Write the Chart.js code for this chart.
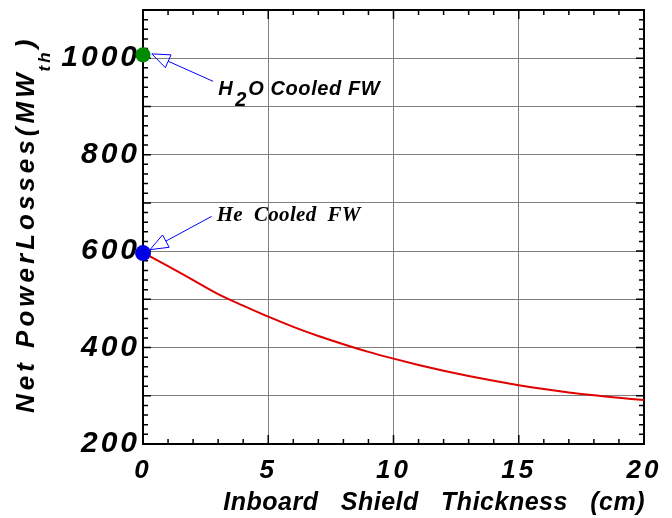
<!DOCTYPE html>
<html>
<head>
<meta charset="utf-8">
<script src="https://cdn.jsdelivr.net/npm/chart.js@4.4.1/dist/chart.umd.min.js"></script>
<style>
  html, body { margin: 0; padding: 0; background: #fff; }
</style>
</head>
<body>
<canvas id="chart" width="672" height="518"></canvas>
<script>
// inboard shield thickness (cm) vs net power losses (MWth)
const thickness = [0, 1, 2, 3, 4, 5, 6, 7, 8, 9, 10, 11, 12, 13, 14, 15, 16, 17, 18, 19, 20];
const netLosses = [597, 569, 540, 511, 487, 464, 443, 424, 407, 391, 377, 364, 352, 341, 331, 322, 314, 307, 301, 296, 291];

// the two first wall cases at zero shield
const h2oThickness = [0];
const h2oLosses = [1007];
const heThickness = [0];
const heLosses = [596];

const xTickLabels = [0, 5, 10, 15, 20];
const yTickLabels = [200, 400, 600, 800, 1000];
const yGridValues = [200, 300, 400, 500, 600, 700, 800, 900, 1000, 1100];

const boldItalic = (size, family) => ({ family: family || "'Liberation Sans', Arial, sans-serif", size: size, style: 'italic', weight: 'bold' });

function openArrow(ctx, tx, ty, ex, ey) {
  const ang = Math.atan2(ey - ty, ex - tx);
  const ux = Math.cos(ang), uy = Math.sin(ang);
  const L = 18, W = 7;
  const bx = tx + ux * L, by = ty + uy * L;
  ctx.beginPath();
  ctx.moveTo(bx, by);
  ctx.lineTo(ex, ey);
  ctx.moveTo(tx, ty);
  ctx.lineTo(bx - uy * W, by + ux * W);
  ctx.lineTo(bx + uy * W, by - ux * W);
  ctx.closePath();
  ctx.stroke();
}

const frameAndNotes = {
  id: 'frameAndNotes',
  beforeUpdate(chart) { chart.ctx.letterSpacing = '3px'; },
  beforeDraw(chart) { chart.ctx.letterSpacing = '3px'; },
  beforeDatasetsDraw(chart) {
    const { ctx, chartArea: a, scales: { x, y } } = chart;
    ctx.save();
    ctx.strokeStyle = '#000';
    ctx.lineWidth = 1.5;
    ctx.beginPath();
    for (let v = 0; v <= 20; v++) {
      const px = x.getPixelForValue(v);
      const len = v % 5 === 0 ? 9 : 5;
      ctx.moveTo(px, a.bottom); ctx.lineTo(px, a.bottom - len);
      ctx.moveTo(px, a.top); ctx.lineTo(px, a.top + len);
    }
    for (let v = 200; v <= 1100; v += 20) {
      const py = y.getPixelForValue(v);
      const len = v % 100 === 0 ? 8 : 5;
      ctx.moveTo(a.left, py); ctx.lineTo(a.left + len, py);
      ctx.moveTo(a.right, py); ctx.lineTo(a.right - len, py);
    }
    ctx.stroke();
    ctx.lineWidth = 2;
    ctx.strokeRect(a.left, a.top, a.right - a.left, a.bottom - a.top);
    ctx.restore();
  },
  afterDraw(chart) {
    const { ctx, chartArea: a, scales: { x, y } } = chart;
    ctx.save();
    // arrows
    ctx.strokeStyle = '#0000ff';
    ctx.lineWidth = 1;
    openArrow(ctx, x.getPixelForValue(0.35), y.getPixelForValue(1009), x.getPixelForValue(2.8), y.getPixelForValue(952));
    openArrow(ctx, x.getPixelForValue(0.28), y.getPixelForValue(603), x.getPixelForValue(2.74), y.getPixelForValue(672));

    ctx.fillStyle = '#000';
    ctx.textAlign = 'left';
    ctx.textBaseline = 'alphabetic';
    // H2O label
    const hx = x.getPixelForValue(3.0), hy = y.getPixelForValue(923);
    ctx.font = "italic bold 20px 'Liberation Sans', Arial, sans-serif";
    ctx.letterSpacing = '0px';
    ctx.fillText('H', hx, hy);
    ctx.fillText('2', hx + 17, hy + 11);
    ctx.letterSpacing = '0.6px';
    ctx.fillText('O Cooled FW', hx + 30, hy);
    // He label
    ctx.font = "italic bold 21px 'Liberation Serif', 'Times New Roman', serif";
    ctx.letterSpacing = '0.3px';
    ctx.fillText('He  Cooled  FW', x.getPixelForValue(2.94), y.getPixelForValue(663));

    // x axis title
    ctx.font = "italic bold 25px 'Liberation Sans', Arial, sans-serif";
    ctx.letterSpacing = '0.5px';
    ctx.textAlign = 'right';
    ctx.fillText('Inboard   Shield   Thickness   (cm)', a.right + 1, a.bottom + 66);

    // y axis title with subscript
    ctx.translate(34, 413);
    ctx.rotate(-Math.PI / 2);
    ctx.textAlign = 'left';
    ctx.font = "italic bold 26px 'Liberation Sans', Arial, sans-serif";
    ctx.letterSpacing = '4px';
    const main = 'Net PowerLosses(MW';
    ctx.fillText(main, 0, 0);
    let w = ctx.measureText(main).width - 2;
    ctx.font = "italic bold 17px 'Liberation Sans', Arial, sans-serif";
    ctx.letterSpacing = '3px';
    ctx.fillText('th', w, 16);
    w += ctx.measureText('th').width + 1;
    ctx.font = "italic bold 26px 'Liberation Sans', Arial, sans-serif";
    ctx.fillText(')', w, 0);
    ctx.restore();
  }
};

new Chart(document.getElementById('chart').getContext('2d'), {
  type: 'line',
  data: {
    datasets: [
      {
        label: 'H2O Cooled FW',
        type: 'scatter',
        data: h2oThickness.map((t, i) => ({ x: t, y: h2oLosses[i] })),
        pointRadius: 7.5,
        pointBackgroundColor: '#008a00',
        pointBorderWidth: 0,
        clip: false
      },
      {
        label: 'He Cooled FW',
        type: 'scatter',
        data: heThickness.map((t, i) => ({ x: t, y: heLosses[i] })),
        pointRadius: 8,
        pointBackgroundColor: '#0000e6',
        pointBorderWidth: 0,
        clip: false
      },
      {
        label: 'Net Power Losses',
        data: thickness.map((t, i) => ({ x: t, y: netLosses[i] })),
        borderColor: '#e00000',
        borderWidth: 2,
        pointRadius: 0,
        cubicInterpolationMode: 'monotone',
        fill: false
      }
    ]
  },
  options: {
    responsive: false,
    animation: false,
    devicePixelRatio: 1,
    layout: { padding: { top: 10, right: 28, left: 0, bottom: 0 } },
    plugins: { legend: { display: false }, tooltip: { enabled: false } },
    scales: {
      x: {
        type: 'linear',
        min: 0,
        max: 20,
        afterBuildTicks: s => { s.ticks = xTickLabels.map(v => ({ value: v })); },
        afterFit: s => { s.height = 74; s.paddingLeft = 0; s.paddingRight = 0; },
        ticks: { font: boldItalic(26), color: '#000', padding: 11, maxRotation: 0, autoSkip: false },
        grid: { color: '#808080', lineWidth: 1, drawTicks: false },
        border: { display: false }
      },
      y: {
        type: 'linear',
        min: 200,
        max: 1100,
        afterBuildTicks: s => { s.ticks = yGridValues.map(v => ({ value: v })); },
        afterFit: s => { s.width = 143; s.paddingTop = 0; s.paddingBottom = 0; },
        ticks: {
          font: boldItalic(30),
          color: '#000',
          padding: 3,
          autoSkip: false,
          callback: v => yTickLabels.includes(v) ? String(v) : ''
        },
        grid: { color: '#808080', lineWidth: 1, drawTicks: false },
        border: { display: false }
      }
    }
  },
  plugins: [frameAndNotes]
});
</script>
</body>
</html>
